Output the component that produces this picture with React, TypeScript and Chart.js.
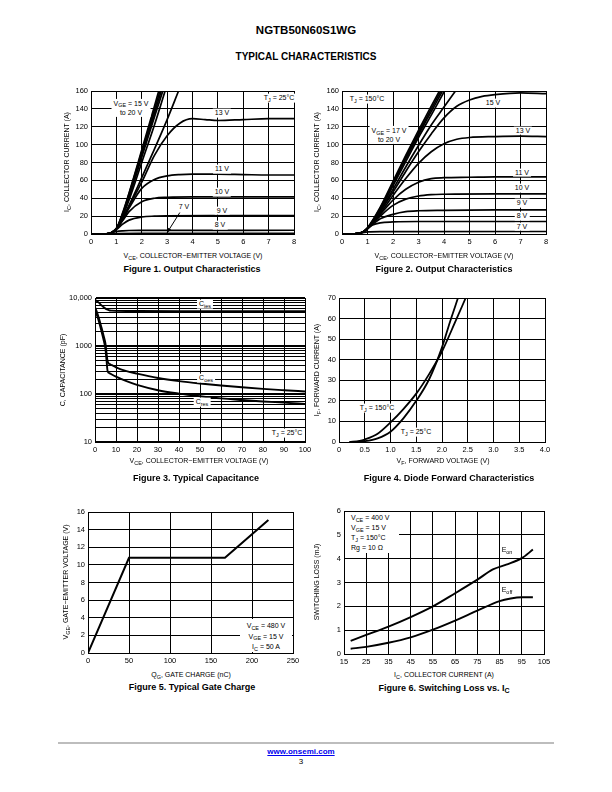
import React, { useEffect, useRef } from "react";
import { Chart, registerables } from "chart.js";

Chart.register(...registerables);

const FONT = '"Liberation Sans", Arial, Helvetica, sans-serif';
const PAD_L = 34;
const PAD_T = 8;
const PAD_R = 14;
const PAD_B = 16;
const TICK_SIZE = 7.5;

type P = [number, number];
type Box = { x: number; y: number; w: number; h: number };

// ---------------- Figure 1 : Output characteristics, TJ = 25°C ----------------
const fig1XTicks = [0, 1, 2, 3, 4, 5, 6, 7, 8];
const fig1YTicks = [0, 20, 40, 60, 80, 100, 120, 140, 160];
const fig1Vge20: P[] = [[0, 0], [0.6, 0.3], [0.8, 1.5], [1, 6], [1.25, 24], [1.5, 46], [2, 94], [2.5, 143], [2.67, 160]];
const fig1Vge19: P[] = [[0, 0], [0.6, 0.3], [0.8, 1.5], [1, 6], [1.25, 23], [1.5, 45], [2, 92], [2.5, 139], [2.72, 160]];
const fig1Vge18: P[] = [[0, 0], [0.6, 0.3], [0.8, 1.5], [1, 6], [1.25, 22], [1.5, 43], [2, 89], [2.5, 135], [2.77, 160]];
const fig1Vge17: P[] = [[0, 0], [0.6, 0.3], [0.8, 1.5], [1, 6], [1.25, 21], [1.5, 41], [2, 86], [2.5, 131], [2.83, 160]];
const fig1Vge16: P[] = [[0, 0], [0.6, 0.3], [0.8, 1.5], [1, 6], [1.25, 20], [1.5, 38], [2, 80], [2.5, 122], [2.92, 160]];
const fig1Vge15: P[] = [[0, 0], [0.6, 0.3], [0.8, 1.5], [1, 6], [1.25, 18], [1.5, 32], [2, 63], [2.5, 95], [3, 128], [3.45, 160]];
const fig1Vge13: P[] = [[0, 0], [0.6, 0.3], [0.8, 1.5], [1, 6], [1.25, 17], [1.5, 31], [2, 58], [2.5, 88], [3, 110], [3.5, 124], [4, 129], [4.5, 128], [5, 127], [6, 128], [7, 129], [8, 129]];
const fig1Vge11: P[] = [[0, 0], [0.6, 0.3], [0.8, 1.5], [1, 6], [1.25, 16], [1.5, 29], [2, 51], [2.5, 61], [3, 65], [3.5, 66.5], [4, 67], [5, 67], [6, 66.5], [7, 66], [8, 66]];
const fig1Vge10: P[] = [[0, 0], [0.6, 0.3], [0.8, 1.5], [1, 5.5], [1.25, 15], [1.5, 25], [2, 36], [2.5, 40], [3, 41], [4, 41.5], [6, 41.5], [8, 41.5]];
const fig1Vge9: P[] = [[0, 0], [0.6, 0.3], [0.8, 1.5], [1, 5], [1.25, 11], [1.5, 15.5], [2, 19], [2.5, 20], [3, 20.3], [5, 20.5], [8, 20.5]];
const fig1Vge8: P[] = [[0, 0], [0.6, 0.3], [0.8, 1.2], [1, 2.8], [1.25, 3.6], [1.5, 3.9], [2, 4], [8, 4.2]];
const fig1Vge7: P[] = [[0, 0], [0.8, 0.3], [1, 0.5], [2, 0.7], [8, 0.8]];
const fig1ArrowFrom: P = [3.5, 24];
const fig1ArrowTo: P = [3.0, 1.5];

// ---------------- Figure 2 : Output characteristics, TJ = 150°C ----------------
const fig2XTicks = [0, 1, 2, 3, 4, 5, 6, 7, 8];
const fig2YTicks = [0, 20, 40, 60, 80, 100, 120, 140, 160];
const fig2Vge20: P[] = [[0, 0], [0.5, 0.3], [0.8, 2], [1, 7], [1.5, 30], [2, 59], [2.5, 88], [3, 116], [3.5, 143], [3.82, 160]];
const fig2Vge19: P[] = [[0, 0], [0.5, 0.3], [0.8, 2], [1, 7], [1.5, 29], [2, 57], [2.5, 86], [3, 113], [3.5, 140], [3.88, 160]];
const fig2Vge18: P[] = [[0, 0], [0.5, 0.3], [0.8, 2], [1, 6], [1.5, 28], [2, 56], [2.5, 84], [3, 111], [3.5, 137], [3.94, 160]];
const fig2Vge17: P[] = [[0, 0], [0.5, 0.3], [0.8, 2], [1, 6], [1.5, 27], [2, 54], [2.5, 81], [3, 108], [3.5, 133], [4.02, 160]];
const fig2Vge16: P[] = [[0, 0], [0.5, 0.3], [0.8, 2], [1, 6], [1.5, 26], [2, 50], [2.5, 75], [3, 99], [3.5, 122], [4, 142], [4.45, 160]];
const fig2Vge15: P[] = [[0, 0], [0.5, 0.3], [0.8, 2], [1, 6], [1.5, 25], [2, 47], [2.5, 70], [3, 92], [3.5, 112], [4, 130], [4.5, 143], [5, 150], [5.5, 154], [6, 156], [7, 158], [8, 157]];
const fig2Vge13: P[] = [[0, 0], [0.5, 0.3], [0.8, 2], [1, 6], [1.5, 23], [2, 43], [2.5, 62], [3, 79], [3.5, 92], [4, 101], [4.5, 106], [5, 108], [6, 109], [7, 109.5], [8, 109]];
const fig2Vge11: P[] = [[0, 0], [0.5, 0.3], [0.8, 2], [1, 6], [1.5, 22], [2, 38], [2.5, 50], [3, 58], [3.5, 62], [4, 63], [5, 63.5], [6, 64], [8, 64]];
const fig2Vge10: P[] = [[0, 0], [0.5, 0.3], [0.8, 2], [1, 6], [1.5, 20], [2, 32], [2.5, 39], [3, 42.5], [3.5, 44], [4, 44.5], [6, 45], [8, 45]];
const fig2Vge9: P[] = [[0, 0], [0.5, 0.3], [0.8, 2], [1, 6], [1.5, 17], [2, 22], [2.5, 25], [3, 26], [4, 26.5], [6, 27], [8, 27]];
const fig2Vge8: P[] = [[0, 0], [0.5, 0.3], [0.8, 2], [1, 6], [1.2, 10], [1.5, 12.5], [2, 13.5], [3, 14], [8, 14]];
const fig2Vge7: P[] = [[0, 0], [0.5, 0.3], [0.8, 1.5], [1, 2.3], [1.5, 2.7], [8, 2.8]];

// ---------------- Figure 3 : Typical capacitance ----------------
const fig3XTicks = [0, 10, 20, 30, 40, 50, 60, 70, 80, 90, 100];
const fig3YDecades = [10, 100, 1000, 10000];
const fig3YDecadeLabels = ["10", "100", "1000", "10,000"];
const fig3Cies: P[] = [[0, 9200], [1, 8600], [2, 7900], [3, 7100], [4, 6500], [5, 6000], [6, 5700], [7, 5500], [8, 5450], [10, 5400], [20, 5350], [40, 5300], [60, 5300], [80, 5300], [100, 5300]];
const fig3Coes: P[] = [[0, 6500], [1, 5000], [2, 3600], [3, 2500], [4, 1700], [5, 1100], [5.5, 700], [6, 480], [7, 420], [8, 400], [10, 360], [15, 300], [20, 265], [30, 215], [40, 185], [50, 165], [60, 150], [70, 138], [80, 128], [90, 120], [100, 113]];
const fig3Cres: P[] = [[0, 5500], [1, 4300], [2, 3100], [3, 2100], [4, 1400], [5, 850], [5.5, 500], [6, 300], [7, 270], [8, 255], [10, 230], [15, 185], [20, 155], [30, 120], [40, 102], [50, 90], [60, 81], [70, 75], [80, 70], [90, 66], [100, 62]];

// ---------------- Figure 4 : Diode forward characteristics ----------------
const fig4XTicks = [0, 0.5, 1, 1.5, 2, 2.5, 3, 3.5, 4];
const fig4XLabels = ["0", "0.5", "1.0", "1.5", "2.0", "2.5", "3.0", "3.5", "4.0"];
const fig4YTicks = [0, 10, 20, 30, 40, 50, 60, 70];
const fig4Tj25: P[] = [[0.3, 0], [0.5, 0.4], [0.75, 1.8], [1, 5], [1.25, 11.5], [1.5, 20], [1.75, 30.5], [2, 46], [2.15, 58], [2.31, 70]];
const fig4Tj150: P[] = [[0.2, 0], [0.4, 0.5], [0.5, 1.2], [0.75, 4], [1, 9.5], [1.25, 16], [1.5, 23.5], [1.75, 33], [2, 44], [2.25, 58], [2.46, 70]];

// ---------------- Figure 5 : Typical gate charge ----------------
const fig5XTicks = [0, 50, 100, 150, 200, 250];
const fig5YTicks = [0, 2, 4, 6, 8, 10, 12, 14, 16];
const fig5Qg: P[] = [[0, 0], [50, 10.8], [167, 10.8], [220, 15.1]];

// ---------------- Figure 6 : Switching loss vs IC ----------------
const fig6XTicks = [15, 25, 35, 45, 55, 65, 75, 85, 95, 105];
const fig6YTicks = [0, 1, 2, 3, 4, 5, 6];
const fig6Eon: P[] = [[18, 0.55], [25, 0.8], [35, 1.15], [45, 1.55], [55, 2.0], [65, 2.55], [75, 3.12], [82, 3.55], [88, 3.75], [95, 4.02], [100, 4.38]];
const fig6Eoff: P[] = [[18, 0.22], [25, 0.3], [35, 0.47], [45, 0.7], [55, 1.02], [65, 1.4], [75, 1.82], [85, 2.22], [90, 2.33], [95, 2.38], [100, 2.38]];

// ---------------- helpers ----------------
const tickFont = { family: FONT, size: TICK_SIZE };

function axis(
  kind: "x" | "y",
  type: "linear" | "logarithmic",
  min: number,
  max: number,
  ticks: number[],
  label: (v: number, i: number) => string,
  lineWidth: any = 1
) {
  return {
    type,
    min,
    max,
    position: kind === "x" ? "bottom" : "left",
    afterBuildTicks: (s: any) => {
      s.ticks = ticks.map((v) => ({ value: v }));
    },
    afterFit: (s: any) => {
      if (kind === "x") s.height = PAD_B;
      else s.width = PAD_L;
    },
    ticks: {
      autoSkip: false,
      maxRotation: 0,
      minRotation: 0,
      color: "#000",
      font: tickFont,
      padding: 3,
      callback: (v: any, i: number) => label(Number(v), i),
    },
    grid: { color: "#000", lineWidth, drawTicks: false },
    border: { display: true, color: "#000", width: 1 },
  };
}

const line = (pts: P[], width = 1.7, smooth = true) => ({
  data: pts.map(([x, y]) => ({ x, y })),
  borderColor: "#000",
  borderWidth: width,
  pointRadius: 0,
  fill: false,
  tension: 0,
  cubicInterpolationMode: smooth ? "monotone" : "default",
});

function config(xAxis: any, yAxis: any, datasets: any[], plugins: any[] = []) {
  return {
    type: "line",
    data: { datasets },
    options: {
      responsive: false,
      maintainAspectRatio: false,
      animation: false,
      devicePixelRatio: 1,
      events: [],
      layout: { padding: { top: PAD_T, right: PAD_R, left: 0, bottom: 0 } },
      plugins: { legend: { display: false }, tooltip: { enabled: false }, title: { display: false } },
      scales: { x: xAxis, y: yAxis },
    },
    plugins,
  };
}

const arrowPlugin = {
  id: "fig1Arrow",
  afterDatasetsDraw(chart: any) {
    const { ctx, scales } = chart;
    const x0 = scales.x.getPixelForValue(fig1ArrowFrom[0]);
    const y0 = scales.y.getPixelForValue(fig1ArrowFrom[1]);
    const x1 = scales.x.getPixelForValue(fig1ArrowTo[0]);
    const y1 = scales.y.getPixelForValue(fig1ArrowTo[1]);
    ctx.save();
    ctx.strokeStyle = "#000";
    ctx.fillStyle = "#000";
    ctx.lineWidth = 1;
    ctx.beginPath();
    ctx.moveTo(x0, y0);
    ctx.lineTo(x1, y1);
    ctx.stroke();
    const a = Math.atan2(y1 - y0, x1 - x0);
    const L = 5;
    ctx.beginPath();
    ctx.moveTo(x1, y1);
    ctx.lineTo(x1 - L * Math.cos(a - 0.4), y1 - L * Math.sin(a - 0.4));
    ctx.lineTo(x1 - L * Math.cos(a + 0.4), y1 - L * Math.sin(a + 0.4));
    ctx.closePath();
    ctx.fill();
    ctx.restore();
  },
};

function PlotCanvas({ box, make }: { box: Box; make: () => any }) {
  const ref = useRef<HTMLCanvasElement | null>(null);
  useEffect(() => {
    if (!ref.current) return;
    const chart = new Chart(ref.current, make());
    return () => chart.destroy();
  }, []);
  const w = box.w + PAD_L + PAD_R;
  const h = box.h + PAD_T + PAD_B;
  return (
    <canvas
      ref={ref}
      width={w}
      height={h}
      style={{ position: "absolute", left: box.x - PAD_L, top: box.y - PAD_T, width: w, height: h }}
    />
  );
}

const Sub = ({ children }: { children: any }) => (
  <span style={{ fontSize: "0.78em", position: "relative", top: "0.3em" }}>{children}</span>
);

function T({
  x,
  y,
  children,
  size = 7,
  bold = false,
  bg = false,
  rotate = false,
  align = "center",
  lh = 1.25,
  color = "#000",
  underline = false,
}: any) {
  const tr = align === "center" ? "translate(-50%,-50%)" : "translate(0,-50%)";
  return (
    <div
      style={{
        position: "absolute",
        left: x,
        top: y,
        transform: tr + (rotate ? " rotate(-90deg)" : ""),
        fontSize: size,
        fontWeight: bold ? 700 : 400,
        whiteSpace: "nowrap",
        lineHeight: lh,
        background: bg ? "#fff" : "transparent",
        padding: bg ? "0px 2px" : 0,
        textAlign: align === "center" ? "center" : "left",
        color,
        textDecoration: underline ? "underline" : "none",
        zIndex: 2,
      }}
    >
      {children}
    </div>
  );
}

// plot areas on the page
const B1: Box = { x: 91, y: 91, w: 203, h: 143 };
const B2: Box = { x: 342, y: 91, w: 204, h: 143 };
const B3: Box = { x: 95, y: 298, w: 210, h: 144 };
const B4: Box = { x: 339, y: 298, w: 206, h: 144 };
const B5: Box = { x: 88, y: 512, w: 205, h: 141 };
const B6: Box = { x: 344, y: 511, w: 200, h: 143 };

const num = (v: number) => String(v);

const make1 = () =>
  config(
    axis("x", "linear", 0, 8, fig1XTicks, num),
    axis("y", "linear", 0, 160, fig1YTicks, num),
    [fig1Vge20, fig1Vge19, fig1Vge18, fig1Vge17, fig1Vge16, fig1Vge15, fig1Vge13, fig1Vge11, fig1Vge10, fig1Vge9, fig1Vge8, fig1Vge7].map((d) => line(d)),
    [arrowPlugin]
  );

const make2 = () =>
  config(
    axis("x", "linear", 0, 8, fig2XTicks, num),
    axis("y", "linear", 0, 160, fig2YTicks, num),
    [fig2Vge20, fig2Vge19, fig2Vge18, fig2Vge17, fig2Vge16, fig2Vge15, fig2Vge13, fig2Vge11, fig2Vge10, fig2Vge9, fig2Vge8, fig2Vge7].map((d) => line(d))
  );

const fig3GridValues: number[] = [];
fig3YDecades.forEach((d, i) => {
  if (i === fig3YDecades.length - 1) {
    fig3GridValues.push(d);
    return;
  }
  for (let k = 1; k < 10; k++) fig3GridValues.push(d * k);
});

const make3 = () =>
  config(
    axis("x", "linear", 0, 100, fig3XTicks, num),
    axis(
      "y",
      "logarithmic",
      10,
      10000,
      fig3GridValues,
      (v) => {
        const i = fig3YDecades.indexOf(v);
        return i >= 0 ? fig3YDecadeLabels[i] : "";
      },
      (c: any) => (c.tick && fig3YDecades.indexOf(c.tick.value) >= 0 ? 2 : 1)
    ),
    [fig3Cies, fig3Coes, fig3Cres].map((d) => line(d, 1.9))
  );

const make4 = () =>
  config(
    axis("x", "linear", 0, 4, fig4XTicks, (_v, i) => fig4XLabels[i]),
    axis("y", "linear", 0, 70, fig4YTicks, num),
    [fig4Tj25, fig4Tj150].map((d) => line(d, 1.8))
  );

const make5 = () =>
  config(
    axis("x", "linear", 0, 250, fig5XTicks, num),
    axis("y", "linear", 0, 16, fig5YTicks, num),
    [line(fig5Qg, 2, false)]
  );

const make6 = () =>
  config(
    axis("x", "linear", 15, 105, fig6XTicks, num),
    axis("y", "linear", 0, 6, fig6YTicks, num),
    [fig6Eon, fig6Eoff].map((d) => line(d, 1.9))
  );

const VCE_TITLE = (
  <>
    V<Sub>CE</Sub>, COLLECTOR−EMITTER VOLTAGE (V)
  </>
);

const FIG_TITLE = 9;

export default function App() {
  return (
    <div
      style={{
        position: "absolute",
        left: 0,
        top: 0,
        width: 612,
        height: 792,
        background: "#fff",
        fontFamily: FONT,
        color: "#000",
        overflow: "hidden",
      }}
    >
      <T x={306} y={30} size={11.5} bold>
        NGTB50N60S1WG
      </T>
      <T x={306} y={57} size={10} bold>
        TYPICAL CHARACTERISTICS
      </T>

      {/* Figure 1 */}
      <PlotCanvas box={B1} make={make1} />
      <T x={67} y={162} rotate>
        I<Sub>C</Sub>, COLLECTOR CURRENT (A)
      </T>
      <T x={193} y={256}>{VCE_TITLE}</T>
      <T x={192} y={270} size={FIG_TITLE} bold>
        Figure 1. Output Characteristics
      </T>
      <T x={131} y={107.5} bg lh={1.3}>
        V<Sub>GE</Sub> = 15 V
        <br />
        to 20 V
      </T>
      <T x={279} y={98} bg>
        T<Sub>J</Sub> = 25°C
      </T>
      <T x={222} y={113} bg>13 V</T>
      <T x={222} y={169} bg>11 V</T>
      <T x={222} y={192} bg>10 V</T>
      <T x={222} y={210.5} bg>9 V</T>
      <T x={220} y={225} bg>8 V</T>
      <T x={184} y={207} bg>7 V</T>

      {/* Figure 2 */}
      <PlotCanvas box={B2} make={make2} />
      <T x={317} y={162} rotate>
        I<Sub>C</Sub>, COLLECTOR CURRENT (A)
      </T>
      <T x={444} y={256}>{VCE_TITLE}</T>
      <T x={444} y={270} size={FIG_TITLE} bold>
        Figure 2. Output Characteristics
      </T>
      <T x={367} y={99} bg>
        T<Sub>J</Sub> = 150°C
      </T>
      <T x={389} y={135} bg lh={1.3}>
        V<Sub>GE</Sub> = 17 V
        <br />
        to 20 V
      </T>
      <T x={493} y={103} bg>15 V</T>
      <T x={523} y={130.5} bg>13 V</T>
      <T x={522} y={172.5} bg>11 V</T>
      <T x={522} y={188} bg>10 V</T>
      <T x={522} y={203} bg>9 V</T>
      <T x={522} y={216} bg>8 V</T>
      <T x={522} y={226.5} bg>7 V</T>

      {/* Figure 3 */}
      <PlotCanvas box={B3} make={make3} />
      <T x={63} y={370} rotate>
        C, CAPACITANCE (pF)
      </T>
      <T x={199} y={461}>{VCE_TITLE}</T>
      <T x={196} y={479} size={FIG_TITLE} bold>
        Figure 3. Typical Capacitance
      </T>
      <T x={205} y={304} bg>
        C<Sub>ies</Sub>
      </T>
      <T x={206} y={378} bg>
        C<Sub>oes</Sub>
      </T>
      <T x={202} y={402} bg>
        C<Sub>res</Sub>
      </T>
      <T x={287} y={433} bg>
        T<Sub>J</Sub> = 25°C
      </T>

      {/* Figure 4 */}
      <PlotCanvas box={B4} make={make4} />
      <T x={317} y={370} rotate>
        I<Sub>F</Sub>, FORWARD CURRENT (A)
      </T>
      <T x={443} y={461}>
        V<Sub>F</Sub>, FORWARD VOLTAGE (V)
      </T>
      <T x={449} y={479} size={FIG_TITLE} bold>
        Figure 4. Diode Forward Characteristics
      </T>
      <T x={377} y={408} bg>
        T<Sub>J</Sub> = 150°C
      </T>
      <T x={416} y={432} bg>
        T<Sub>J</Sub> = 25°C
      </T>

      {/* Figure 5 */}
      <PlotCanvas box={B5} make={make5} />
      <T x={66} y={582} rotate>
        V<Sub>GE</Sub>, GATE−EMITTER VOLTAGE (V)
      </T>
      <T x={191} y={675}>
        Q<Sub>G</Sub>, GATE CHARGE (nC)
      </T>
      <T x={192} y={688} size={FIG_TITLE} bold>
        Figure 5. Typical Gate Charge
      </T>
      <div
        style={{
          position: "absolute",
          left: 240,
          top: 619,
          width: 52,
          height: 33,
          background: "#fff",
          fontSize: 7,
          lineHeight: "9.5px",
          textAlign: "center",
          paddingTop: 2,
          boxSizing: "border-box",
          zIndex: 2,
        }}
      >
        V<Sub>CE</Sub> = 480 V
        <br />
        V<Sub>GE</Sub> = 15 V
        <br />
        I<Sub>C</Sub> = 50 A
      </div>

      {/* Figure 6 */}
      <PlotCanvas box={B6} make={make6} />
      <T x={317} y={582} rotate>
        SWITCHING LOSS (mJ)
      </T>
      <T x={444} y={675}>
        I<Sub>C</Sub>, COLLECTOR CURRENT (A)
      </T>
      <T x={444} y={689} size={FIG_TITLE} bold>
        Figure 6. Switching Loss vs. I<Sub>C</Sub>
      </T>
      <div
        style={{
          position: "absolute",
          left: 345,
          top: 512,
          width: 54,
          height: 41,
          background: "#fff",
          fontSize: 7,
          lineHeight: "9px",
          textAlign: "left",
          paddingLeft: 6,
          paddingTop: 1,
          boxSizing: "border-box",
          zIndex: 2,
        }}
      >
        V<Sub>CE</Sub> = 400 V
        <br />
        V<Sub>GE</Sub> = 15 V
        <br />
        T<Sub>J</Sub> = 150°C
        <br />
        Rg = 10 Ω
      </div>
      <T x={507} y={550}>
        E<Sub>on</Sub>
      </T>
      <T x={507} y={590}>
        E<Sub>off</Sub>
      </T>

      {/* footer */}
      <div style={{ position: "absolute", left: 58, top: 742, width: 496, height: 2, background: "#bdbdbd" }} />
      <T x={301} y={752} size={8} bold color="#0000ee" underline>
        www.onsemi.com
      </T>
      <T x={301} y={762} size={8}>
        3
      </T>
    </div>
  );
}
